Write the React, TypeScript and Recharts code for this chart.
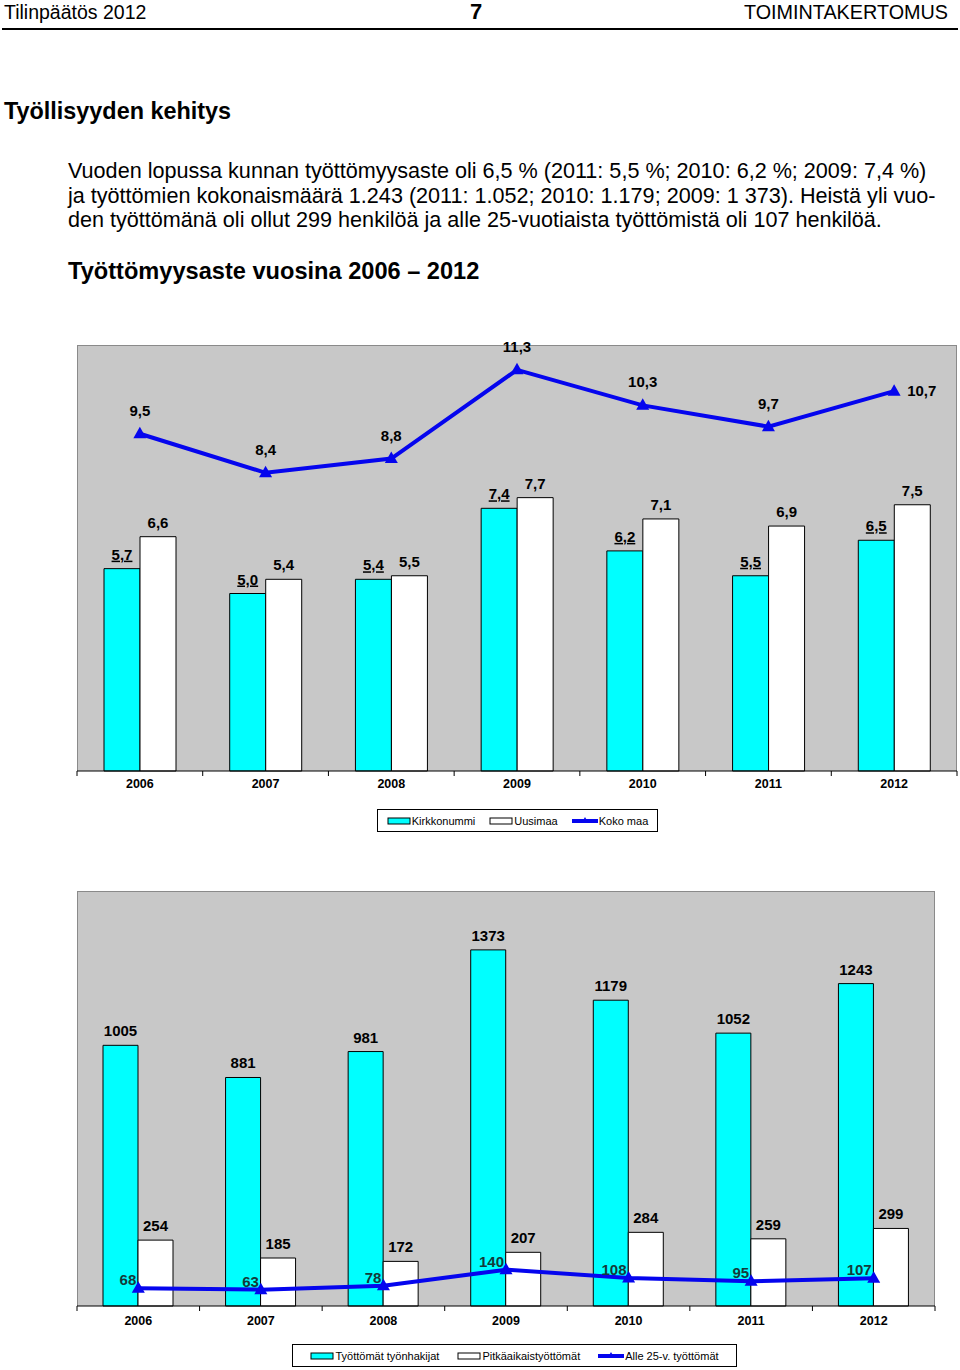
import React from 'react';
import { ComposedChart, Bar, Line, XAxis, YAxis, LabelList } from 'recharts';

const years = ['2006', '2007', '2008', '2009', '2010', '2011', '2012'];
const kirkkonummi = [5.7, 5.0, 5.4, 7.4, 6.2, 5.5, 6.5];
const uusimaa = [6.6, 5.4, 5.5, 7.7, 7.1, 6.9, 7.5];
const kokoMaa = [9.5, 8.4, 8.8, 11.3, 10.3, 9.7, 10.7];

const tyonhakijat = [1005, 881, 981, 1373, 1179, 1052, 1243];
const pitkaaikais = [254, 185, 172, 207, 284, 259, 299];
const alle25 = [68, 63, 78, 140, 108, 95, 107];

const rateData = years.map((y, i) => ({ year: y, kirkkonummi: kirkkonummi[i], uusimaa: uusimaa[i], kokoMaa: kokoMaa[i] }));
const countData = years.map((y, i) => ({ year: y, tyonhakijat: tyonhakijat[i], pitkaaikais: pitkaaikais[i], alle25: alle25[i] }));

const FF = '"Liberation Sans", Arial, Helvetica, sans-serif';
const CYAN = '#00FFFF';
const BLUE = '#0505EE';
const BG = '#C8C8C8';
const LBL = 15;
const fi = (v: number) => v.toFixed(1).replace('.', ',');

const makeTick = (band: number, n: number, dy: number) => (props: any) => {
  const { x, y, payload, index } = props;
  return (
    <g>
      <line x1={x - band / 2} x2={x - band / 2} y1={y} y2={y + 5} stroke="#000" strokeWidth={1} />
      {index === n - 1 ? <line x1={x + band / 2} x2={x + band / 2} y1={y} y2={y + 5} stroke="#000" strokeWidth={1} /> : null}
      <text x={x} y={y + dy} textAnchor="middle" fontSize={12.5} fontWeight="bold" fontFamily={FF} fill="#000">
        {payload.value}
      </text>
    </g>
  );
};

const triangle = (color: string) => (p: any) => {
  const { cx, cy, index } = p;
  if (cx == null || cy == null) return <g key={index} />;
  return <path key={index} d={`M${cx},${cy - 7} L${cx + 6.5},${cy + 4.5} L${cx - 6.5},${cy + 4.5} Z`} fill={color} />;
};

const barLabel = (fmt: (v: number) => string, underline: boolean) => (p: any) => {
  const { x, y, width, value } = p;
  return (
    <text x={x + width / 2} y={y - 9} textAnchor="middle" fontSize={LBL} fontWeight="bold" fontFamily={FF} fill="#000"
      style={underline ? { textDecoration: 'underline' } : undefined}>
      {fmt(value)}
    </text>
  );
};

const rateLineLabel = (p: any) => {
  const { x, y, value, index } = p;
  if (index === years.length - 1) {
    return (
      <text x={x + 13} y={y + 5} textAnchor="start" fontSize={LBL} fontWeight="bold" fontFamily={FF} fill="#000">{fi(value)}</text>
    );
  }
  return (
    <text x={x} y={y - 18} textAnchor="middle" fontSize={LBL} fontWeight="bold" fontFamily={FF} fill="#000">{fi(value)}</text>
  );
};

const countLineLabel = (p: any) => {
  const { x, y, value } = p;
  return (
    <text x={x - 2} y={y - 3} textAnchor="end" fontSize={LBL} fontWeight="bold" fontFamily={FF} fill="#143a3a">{value}</text>
  );
};

type LegendItem = { label: string; kind: 'bar' | 'line'; color: string };

function Swatch({ item }: { item: LegendItem }) {
  if (item.kind === 'bar') {
    return (
      <svg width={24} height={10} style={{ display: 'block' }}>
        <rect x={1} y={2} width={22} height={6} fill={item.color} stroke="#000" strokeWidth={1} />
      </svg>
    );
  }
  return (
    <svg width={26} height={10} style={{ display: 'block' }}>
      <line x1={0} x2={26} y1={5} y2={5} stroke={item.color} strokeWidth={4} />
      <path d="M13,1 L16.5,7 L9.5,7 Z" fill={item.color} />
    </svg>
  );
}

function LegendBox({ left, top, width, height, items, gap }: { left: number; top: number; width: number; height: number; items: LegendItem[]; gap: number }) {
  return (
    <div style={{ position: 'absolute', left, top, width, height, boxSizing: 'border-box', border: '1px solid #000', background: '#fff', display: 'flex', alignItems: 'center', justifyContent: 'center', gap, fontFamily: FF, fontSize: 11, color: '#000' }}>
      {items.map((it) => (
        <div key={it.label} style={{ display: 'flex', alignItems: 'center', gap: 1 }}>
          <Swatch item={it} />
          <span style={{ whiteSpace: 'nowrap' }}>{it.label}</span>
        </div>
      ))}
    </div>
  );
}

// chart geometry
const C1 = { top: 300, height: 500, left: 77, right: 957, plotTop: 345, plotBottom: 771 };
const C2 = { top: 860, height: 480, left: 77, right: 935, plotTop: 891, plotBottom: 1306 };

function PlotBg({ c }: { c: typeof C1 }) {
  return (
    <div style={{ position: 'absolute', left: c.left, top: c.plotTop, width: c.right - c.left, height: c.plotBottom - c.plotTop, background: BG, boxSizing: 'border-box', borderTop: '1px solid #8a8a8a', borderLeft: '1px solid #8a8a8a', borderRight: '1px solid #8a8a8a' }} />
  );
}

export default function App() {
  const band1 = (C1.right - C1.left) / years.length;
  const band2 = (C2.right - C2.left) / years.length;
  return (
    <div style={{ position: 'absolute', left: 0, top: 0, width: 960, height: 1370, background: '#fff', fontFamily: FF, color: '#000', overflow: 'hidden' }}>
      {/* header */}
      <div style={{ position: 'absolute', left: 4, top: 2.5, fontSize: 19.5, lineHeight: 1, whiteSpace: 'nowrap' }}>Tilinpäätös 2012</div>
      <div style={{ position: 'absolute', left: 466, width: 20, textAlign: 'center', top: 0.5, fontSize: 22, fontWeight: 'bold', lineHeight: 1 }}>7</div>
      <div style={{ position: 'absolute', right: 12, top: 2.5, fontSize: 19.8, lineHeight: 1, whiteSpace: 'nowrap' }}>TOIMINTAKERTOMUS</div>
      <div style={{ position: 'absolute', left: 2, top: 28, width: 956, height: 2, background: '#000' }} />

      <div style={{ position: 'absolute', left: 4, top: 99.5, fontSize: 23.4, fontWeight: 'bold', lineHeight: 1, whiteSpace: 'nowrap' }}>Työllisyyden kehitys</div>

      <div style={{ position: 'absolute', left: 68, top: 159.3, fontSize: 21.6, lineHeight: '24.5px', whiteSpace: 'nowrap' }}>
        <div>Vuoden lopussa kunnan työttömyysaste oli 6,5 % (2011: 5,5 %; 2010: 6,2 %; 2009: 7,4 %)</div>
        <div>ja työttömien kokonaismäärä 1.243 (2011: 1.052; 2010: 1.179; 2009: 1 373). Heistä yli vuo-</div>
        <div>den työttömänä oli ollut 299 henkilöä ja alle 25-vuotiaista työttömistä oli 107 henkilöä.</div>
      </div>

      <div style={{ position: 'absolute', left: 68, top: 260.2, fontSize: 23.6, fontWeight: 'bold', lineHeight: 1, whiteSpace: 'nowrap' }}>Työttömyysaste vuosina 2006 – 2012</div>

      {/* chart 1 */}
      <PlotBg c={C1} />
      <div style={{ position: 'absolute', left: 0, top: C1.top }}>
        <ComposedChart width={960} height={C1.height} data={rateData} barGap={0}
          margin={{ top: C1.plotTop - C1.top, right: 960 - C1.right, left: C1.left, bottom: C1.top + C1.height - C1.plotBottom - 25 }}>
          <XAxis dataKey="year" height={25} interval={0} tickLine={false} tickSize={0} tickMargin={0}
            axisLine={{ stroke: '#000', strokeWidth: 1 }} tick={makeTick(band1, years.length, 17)} />
          <YAxis hide domain={[0, 12]} />
          <Bar dataKey="kirkkonummi" fill={CYAN} stroke="#000" strokeWidth={1} barSize={36} isAnimationActive={false}>
            <LabelList dataKey="kirkkonummi" content={barLabel(fi, true)} />
          </Bar>
          <Bar dataKey="uusimaa" fill="#FFFFFF" stroke="#000" strokeWidth={1} barSize={36} isAnimationActive={false}>
            <LabelList dataKey="uusimaa" content={barLabel(fi, false)} />
          </Bar>
          <Line dataKey="kokoMaa" stroke={BLUE} strokeWidth={4} dot={triangle(BLUE)} activeDot={false} isAnimationActive={false}>
            <LabelList dataKey="kokoMaa" content={rateLineLabel} />
          </Line>
        </ComposedChart>
      </div>
      <LegendBox left={377} top={809} width={281} height={23} gap={14}
        items={[{ label: 'Kirkkonummi', kind: 'bar', color: CYAN }, { label: 'Uusimaa', kind: 'bar', color: '#FFFFFF' }, { label: 'Koko maa', kind: 'line', color: BLUE }]} />

      {/* chart 2 */}
      <PlotBg c={C2} />
      <div style={{ position: 'absolute', left: 0, top: C2.top }}>
        <ComposedChart width={960} height={C2.height} data={countData} barGap={0}
          margin={{ top: C2.plotTop - C2.top, right: 960 - C2.right, left: C2.left, bottom: C2.top + C2.height - C2.plotBottom - 25 }}>
          <XAxis dataKey="year" height={25} interval={0} tickLine={false} tickSize={0} tickMargin={0}
            axisLine={{ stroke: '#000', strokeWidth: 1 }} tick={makeTick(band2, years.length, 19)} />
          <YAxis hide domain={[0, 1600]} />
          <Bar dataKey="tyonhakijat" fill={CYAN} stroke="#000" strokeWidth={1} barSize={35} isAnimationActive={false}>
            <LabelList dataKey="tyonhakijat" content={barLabel((v) => String(v), false)} />
          </Bar>
          <Bar dataKey="pitkaaikais" fill="#FFFFFF" stroke="#000" strokeWidth={1} barSize={35} isAnimationActive={false}>
            <LabelList dataKey="pitkaaikais" content={barLabel((v) => String(v), false)} />
          </Bar>
          <Line dataKey="alle25" stroke={BLUE} strokeWidth={4} dot={triangle(BLUE)} activeDot={false} isAnimationActive={false}>
            <LabelList dataKey="alle25" content={countLineLabel} />
          </Line>
        </ComposedChart>
      </div>
      <LegendBox left={292} top={1344} width={445} height={23} gap={18}
        items={[{ label: 'Työttömät työnhakijat', kind: 'bar', color: CYAN }, { label: 'Pitkäaikaistyöttömät', kind: 'bar', color: '#FFFFFF' }, { label: 'Alle 25-v. työttömät', kind: 'line', color: BLUE }]} />
    </div>
  );
}
